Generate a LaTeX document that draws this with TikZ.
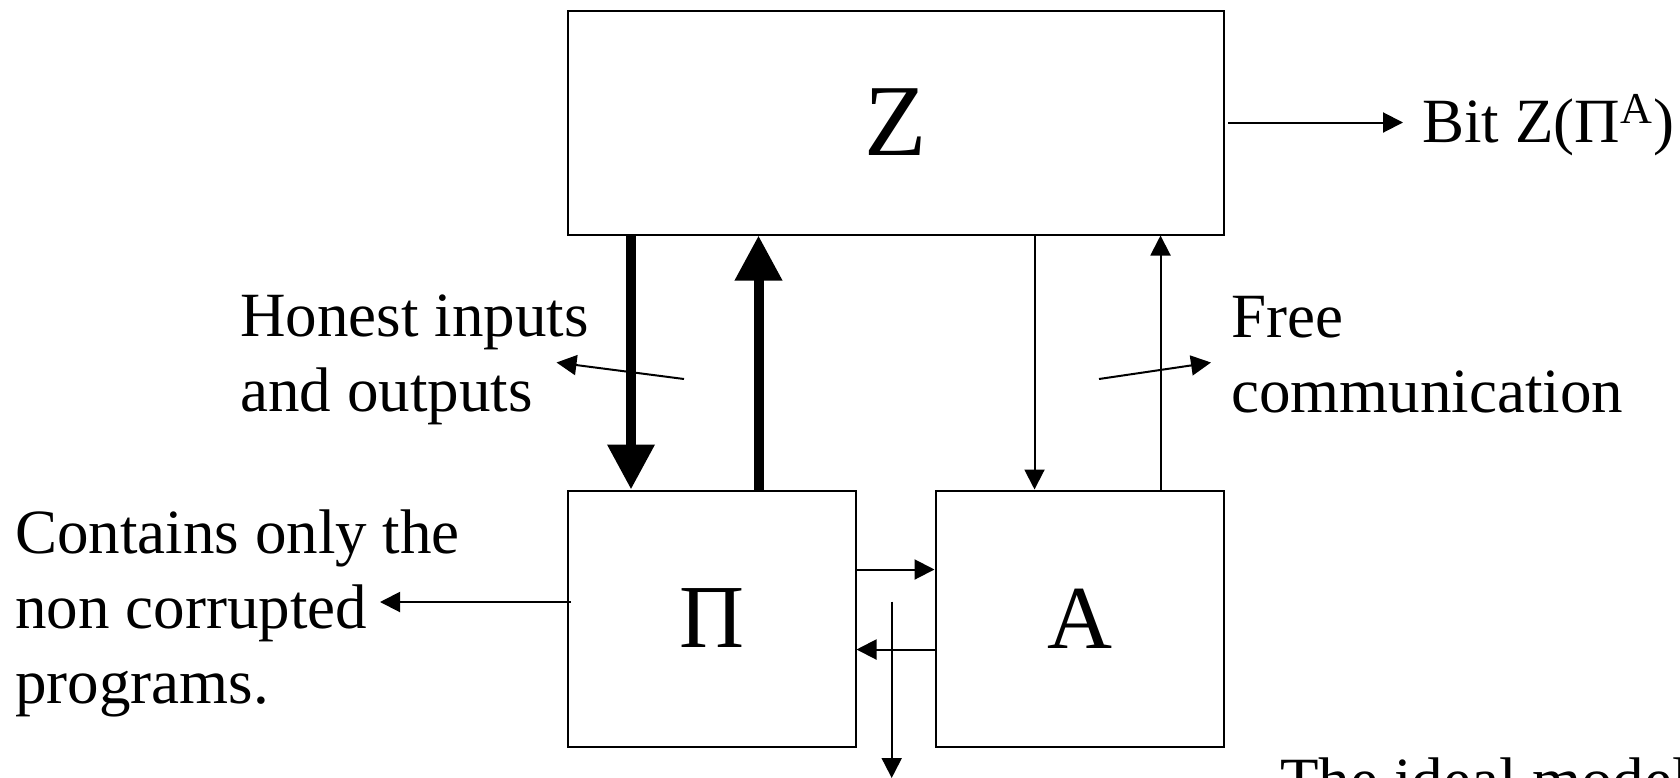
\documentclass[tikz,border=0pt]{standalone}
\usepackage{fontspec}
\setmainfont{Liberation Serif}
\usetikzlibrary{arrows.meta,positioning,calc}

\begin{document}
\begin{tikzpicture}[
    x=0.5pt,y=-0.5pt,
    >=Latex,
    box/.style={draw=black, line width=1pt, inner sep=0pt},
    bigline/.style={draw=black, line width=5pt, -{Triangle[width=22.5pt,length=22.5pt]}},
    line/.style={draw=black, line width=1pt, -{Triangle[width=10pt,length=10pt]}},
    note/.style={font=\fontsize{31.5}{37.5}\selectfont, inner sep=0pt, anchor=base west, align=left},
    ztitle/.style={font=\fontsize{51}{60}\selectfont},
    boxtitle/.style={font=\fontsize{45}{54}\selectfont}
]

% ===== frame of the page (the bottom line is cut off) =====
\path[use as bounding box, clip] (0,0) rectangle (1680,777);

% ===== boxes =====
\node[box, ztitle, minimum width=328pt, minimum height=112pt] (Z) at (896,122.5) {Z};
\node[box, boxtitle, minimum width=143.75pt, minimum height=128pt] (P) at (711.75,618.5) {Π};
\node[box, boxtitle, minimum width=144.25pt, minimum height=128pt] (A) at (1079.75,618.5) {A};

% ===== free ends =====
\coordinate (bit tip)   at (1403,122.5);
\coordinate (hon tail)  at (684,379);
\coordinate (hon tip)   at (556.5,362.5);
\coordinate (free tail) at (1099,379);
\coordinate (free tip)  at (1211,362.5);
\coordinate (cont tip)  at (380,602);
\coordinate (leak top)  at (891.7,601.7);
\coordinate (leak bot)  at (891.7,778);

% output bit
\draw[line] ([xshift=1.5pt]Z.east) -- (bit tip);
\node[note] (bit) at (1422,142) {Bit Z(Π\textsuperscript{A})};

% honest inputs and outputs (thick)
\draw[bigline] ([xshift=32pt]Z.south west) -- ([xshift=32pt]P.north west);
\draw[bigline] ([xshift=95.75pt]P.north west) -- ([xshift=95.75pt]Z.south west);

% free communication (thin)
\draw[line] ([xshift=233.75pt]Z.south west) -- ([xshift=50pt]A.north west);
\draw[line] ([xshift=-32.25pt]A.north east) -- ([xshift=-32.25pt]Z.south east);

% between Pi and A
\draw[line] ([yshift=-40pt]P.north east) -- ([yshift=-40pt]A.north west);
\draw[line] ([yshift=-80pt]A.north west) -- ([yshift=-80pt]P.north east);
\draw[line] (leak top) -- (leak bot);

% side notes (placed by the base of their last line)
\draw[line] (hon tail) -- (hon tip);
\node[note] (honest) at (240,411.7) {Honest inputs\\and outputs};

\draw[line] (free tail) -- (free tip);
\node[note] (free) at (1231,412.5) {Free\\communication};

\draw[line] ([xshift=2pt,yshift=8.25pt]P.west) -- (cont tip);
\node[note] (cont) at (15,703) {Contains only the\\non corrupted\\programs.};

% bottom title
\node[note] (ideal) at (1280,801) {The ideal model};
\end{tikzpicture}
\end{document}
